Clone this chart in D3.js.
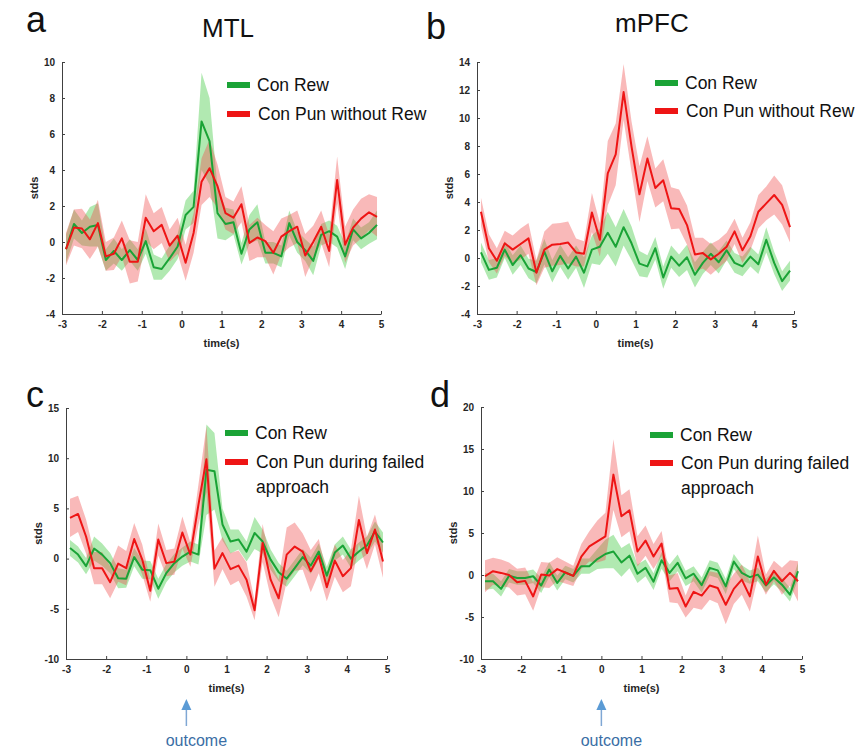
<!DOCTYPE html>
<html>
<head>
<meta charset="utf-8">
<script src="https://cdn.jsdelivr.net/npm/d3@7"></script>
<style>
  body { margin: 0; background: #fff; }
  svg { font-family: "Liberation Sans", Arial, sans-serif; }
  .axis path, .axis line { stroke: #404040; }
  .axis text { font-size: 10px; font-weight: bold; fill: #262626; }
</style>
</head>
<body>
<div id="chart"></div>
<script>
// time bins (s)
const times = [-2.9, -2.7, -2.5, -2.3, -2.1, -1.9, -1.7, -1.5, -1.3, -1.1,
  -0.9, -0.7, -0.5, -0.3, -0.1, 0.1, 0.3, 0.5, 0.7, 0.9,
  1.1, 1.3, 1.5, 1.7, 1.9, 2.1, 2.3, 2.5, 2.7, 2.9,
  3.1, 3.3, 3.5, 3.7, 3.9, 4.1, 4.3, 4.5, 4.7, 4.9];
const xTicks = [-3, -2, -1, 0, 1, 2, 3, 4, 5];

// a - MTL
const aGreen = [-0.4, 1.0, 0.5, 0.85, 0.95, -1.0, -0.5, -1.0, -0.45, -1.0,
  0.05, -1.4, -1.5, -0.9, -0.25, 1.5, 1.95, 6.7, 5.6, 1.6,
  1.0, 1.1, -0.65, 0.7, 1.1, -0.6, -0.6, -0.8, 1.05, 0.0,
  -0.45, -1.05, 0.4, 0.6, 0.3, -0.8, 0.7, 0.2, 0.5, 0.95];
const aGreenSem = [0.8, 0.8, 0.7, 1.1, 1.2, 0.6, 0.7, 0.6, 0.6, 0.6,
  0.7, 0.7, 0.6, 0.7, 0.7, 0.8, 0.9, 2.7, 2.4, 1.4,
  0.9, 0.7, 0.6, 0.8, 1.0, 0.6, 0.6, 0.6, 0.7, 0.6,
  0.6, 0.8, 0.6, 0.6, 0.6, 0.7, 0.6, 0.6, 0.6, 0.8];
const aRed = [-0.4, 0.8, 0.75, 0.15, 1.05, -0.8, -0.65, 0.2, -1.1, -1.1,
  1.35, 0.6, 0.95, -0.2, 0.35, -1.15, 0.5, 3.35, 4.1, 3.1,
  1.6, 1.35, 2.1, -0.05, 0.25, 0.05, -0.6, 0.3, 0.6, 0.85,
  -0.75, 0.0, 0.85, -0.5, 3.45, -0.15, 0.8, 1.3, 1.65, 1.4];
const aRedSem = [0.9, 1.0, 1.1, 1.1, 1.3, 0.8, 0.9, 1.0, 1.2, 1.1,
  1.3, 1.0, 1.0, 0.9, 1.0, 1.0, 1.1, 1.3, 1.6, 1.2,
  0.9, 0.9, 1.0, 1.0, 1.1, 0.9, 1.2, 1.0, 0.9, 0.9,
  1.2, 0.9, 0.9, 0.9, 1.3, 1.0, 1.0, 1.1, 1.0, 1.1];

// b - mPFC
const bGreen = [0.4, -0.85, -0.7, 0.6, -0.5, 0.2, -0.75, -1.0, 0.45, -0.95,
  0.15, -0.75, 0.1, -1.05, 0.6, 0.8, 1.8, 0.8, 2.2, 1.05,
  -0.4, -0.6, 0.7, -1.4, 0.1, -0.55, 0.05, -1.2, -0.35, 0.3,
  -0.3, 0.55, -0.35, -0.6, 0.1, -0.45, 1.3, -0.35, -1.65, -0.9];
const bGreenSem = [0.7, 0.7, 0.7, 0.6, 0.7, 0.7, 0.7, 0.8, 0.9, 0.8,
  0.8, 0.8, 0.8, 1.1, 1.0, 1.3, 1.5, 1.4, 1.3, 1.2,
  0.9, 0.8, 0.8, 0.8, 0.8, 0.8, 0.9, 0.9, 0.8, 0.8,
  0.8, 0.7, 0.7, 0.7, 0.7, 0.7, 0.9, 0.8, 0.7, 0.7];
const bRed = [3.3, 0.7, -0.2, 1.05, 0.6, 1.0, 1.4, -1.05, 0.6, 0.95,
  1.0, 1.1, 0.4, 0.3, 3.25, 1.3, 6.05, 7.4, 11.85, 7.95,
  4.55, 7.1, 5.0, 5.55, 3.55, 3.5, 2.35, 0.25, 0.35, -0.1,
  0.3, 0.8, 1.9, 0.55, 1.55, 3.3, 3.9, 4.5, 3.8, 2.2];
const bRedSem = [1.0, 1.0, 0.9, 0.9, 1.0, 1.1, 1.1, 0.9, 1.3, 1.5,
  1.5, 1.5, 1.0, 0.9, 1.4, 1.2, 2.3, 2.2, 2.0, 1.8,
  2.0, 1.6, 1.4, 1.5, 1.5, 1.4, 1.4, 1.2, 1.1, 1.1,
  1.0, 1.0, 0.9, 0.9, 1.0, 1.2, 1.2, 1.4, 1.4, 1.1];

// c - MTL, failed approach
const cGreen = [1.05, 0.4, -0.75, 1.0, 0.4, -0.45, -1.95, -2.0, 0.15, -1.1,
  -1.15, -3.0, -1.45, -0.45, 0.2, 0.7, 0.4, 8.85, 8.7, 3.4,
  1.7, 1.9, 0.7, 2.55, 1.7, -0.1, -1.35, -2.0, -0.95, 0.15,
  -0.7, 0.7, -1.7, 0.6, 1.3, 0.0, 0.7, 1.3, 2.7, 1.6];
const cGreenSem = [0.8, 0.8, 0.8, 1.2, 1.1, 1.0, 1.0, 0.9, 0.9, 0.9,
  0.9, 1.0, 0.9, 0.9, 0.9, 1.0, 1.0, 4.5, 3.8, 1.6,
  1.2, 1.0, 1.0, 1.6, 1.2, 1.0, 0.9, 0.8, 0.8, 0.8,
  0.8, 0.8, 0.9, 0.8, 0.9, 0.9, 0.9, 0.9, 1.0, 1.0];
const cRed = [4.05, 4.45, 2.2, -0.95, -0.95, -2.35, -0.5, -0.95, 1.95, -0.1,
  -3.2, 1.9, -0.45, -0.3, 2.6, 0.4, 5.35, 9.9, -1.0, 0.55,
  -1.05, -0.7, -2.1, -5.15, 1.55, -2.1, -3.95, 0.4, 1.2, 0.7,
  -1.25, 0.25, -2.85, -0.2, -1.75, -0.95, 3.85, 0.55, 2.9, -0.3];
const cRedSem = [1.9, 1.8, 1.7, 1.6, 1.6, 1.6, 1.8, 1.7, 1.6, 1.5,
  1.1, 1.6, 1.3, 1.3, 1.6, 1.2, 2.0, 3.3, 1.8, 1.6,
  1.6, 1.5, 1.7, 1.0, 1.9, 1.7, 1.9, 2.7, 2.4, 1.8,
  2.1, 1.7, 1.4, 1.6, 1.6, 1.8, 2.4, 1.6, 1.5, 1.6];

// d - mPFC, failed approach
const dGreen = [-0.75, -0.75, -1.65, -0.1, -0.35, -0.35, -0.15, -1.25, 0.65, -0.95,
  0.3, -0.1, 1.05, 1.05, 1.9, 2.5, 2.8, 1.5, 2.3, 0.15,
  0.85, -0.8, 1.75, 0.25, 1.45, -0.4, 0.15, -1.2, 0.85, 0.55,
  -1.35, 1.6, 0.25, -0.25, 0.05, -1.25, -0.3, -1.15, -2.35, 0.45];
const dGreenSem = [1.0, 0.9, 0.9, 0.8, 0.8, 0.8, 0.8, 0.9, 0.9, 0.9,
  0.8, 0.8, 0.9, 0.9, 1.2, 1.7, 2.0, 1.7, 1.5, 1.1,
  1.0, 1.0, 1.0, 1.0, 1.0, 0.9, 0.9, 0.9, 0.9, 0.9,
  0.9, 0.9, 0.9, 0.8, 0.8, 0.8, 0.8, 0.8, 0.8, 1.0];
const dRed = [-0.15, 0.45, 0.25, 0.0, -0.85, -0.7, -2.55, 0.05, -0.05, 0.7,
  0.3, -0.1, 2.2, 3.4, 4.0, 4.6, 11.95, 7.0, 7.7, 2.8,
  4.1, 2.2, 3.75, -1.65, -1.55, -3.75, -2.0, -2.45, -1.25, -1.55,
  -3.55, -1.65, -0.55, -2.55, 2.2, -1.15, 0.5, -0.75, 0.25, -0.75];
const dRedSem = [1.9, 1.6, 1.6, 1.5, 1.6, 1.6, 1.7, 1.5, 1.5, 1.4,
  1.3, 1.2, 1.5, 1.8, 2.5, 2.8, 4.2, 2.5, 2.5, 1.8,
  1.8, 1.5, 1.5, 1.6, 1.8, 1.3, 1.9, 1.7, 1.7, 1.8,
  2.3, 1.8, 1.8, 1.8, 2.5, 1.2, 1.2, 1.6, 1.5, 2.4];

const greenLabel = "Con Rew";
const redLabelTop = ["Con Pun without Rew"];
const redLabelBottom = ["Con Pun during failed", "approach"];

const colors = {
  greenLine: "#1aa336", greenFill: "#3cc83c",
  redLine: "#ee1515", redFill: "#f05050"
};

const W = 860, H = 749;

const svg = d3.select("#chart").append("svg")
  .attr("width", W).attr("height", H);

// plain hyphen for negatives, like the matlab figure
const tickFmt = d => String(d);

function drawPanel(p) {
  let g = svg.append("g");

  let x = d3.scaleLinear().domain([-3, 5]).range([p.x0, p.x1]);
  let y = d3.scaleLinear().domain(p.yDomain).range([p.y1, p.y0]);

  let rows = times.map((t, i) => ({
    t: t, green: p.green[i], greenSem: p.greenSem[i],
    red: p.red[i], redSem: p.redSem[i]
  }));

  // sem bands, green first so the red tint sits over it
  let area = key => d3.area()
    .x(d => x(d.t))
    .y0(d => y(d[key] - d[key + "Sem"]))
    .y1(d => y(d[key] + d[key + "Sem"]));

  g.append("path").datum(rows)
    .attr("d", area("green"))
    .attr("fill", colors.greenFill).attr("fill-opacity", 0.4);
  g.append("path").datum(rows)
    .attr("d", area("red"))
    .attr("fill", colors.redFill).attr("fill-opacity", 0.4);

  let line = key => d3.line().x(d => x(d.t)).y(d => y(d[key]));

  g.append("path").datum(rows)
    .attr("d", line("green"))
    .attr("fill", "none").attr("stroke", colors.greenLine)
    .attr("stroke-width", 2).attr("stroke-linejoin", "round");
  g.append("path").datum(rows)
    .attr("d", line("red"))
    .attr("fill", "none").attr("stroke", colors.redLine)
    .attr("stroke-width", 2).attr("stroke-linejoin", "round");

  // axes, matlab style (ticks inside)
  g.append("g")
    .attr("class", "axis")
    .attr("transform", `translate(0,${p.y1})`)
    .call(d3.axisBottom(x).tickValues(xTicks).tickFormat(tickFmt)
      .tickSizeInner(-3).tickSizeOuter(0).tickPadding(7));

  g.append("g")
    .attr("class", "axis")
    .attr("transform", `translate(${p.x0},0)`)
    .call(d3.axisLeft(y).tickValues(p.yTicks).tickFormat(tickFmt)
      .tickSizeInner(-3).tickSizeOuter(0).tickPadding(7));

  g.append("text")
    .attr("x", (p.x0 + p.x1) / 2)
    .attr("y", p.y1 + 33)
    .attr("text-anchor", "middle")
    .style("font-size", "11px").style("font-weight", "bold").style("fill", "#262626")
    .text("time(s)");

  g.append("text")
    .attr("transform", `translate(${p.x0 - 24},${(p.y0 + p.y1) / 2}) rotate(-90)`)
    .attr("text-anchor", "middle")
    .style("font-size", "11px").style("font-weight", "bold").style("fill", "#262626")
    .text("stds");

  // legend
  g.append("rect")
    .attr("x", p.lx).attr("y", p.ly - 3)
    .attr("width", 23).attr("height", 6)
    .attr("fill", colors.greenLine);
  g.append("text")
    .attr("x", p.lx + 30).attr("y", p.ly + 6)
    .style("font-size", "17.5px").style("fill", "#111")
    .text(greenLabel);

  g.append("rect")
    .attr("x", p.lx).attr("y", p.ly + p.gap - 3)
    .attr("width", 23).attr("height", 6)
    .attr("fill", colors.redLine);
  p.redLabel.forEach((s, i) => {
    g.append("text")
      .attr("x", p.lx + 31).attr("y", p.ly + p.gap + 6 + i * 25)
      .style("font-size", "17.5px").style("fill", "#111")
      .text(s);
  });

  // panel letter
  g.append("text")
    .attr("x", p.letterX).attr("y", p.letterY)
    .style("font-size", "36px").style("fill", "#111")
    .text(p.letter);
}

const panels = [
  { letter: "a", letterX: 26, letterY: 32, x0: 62, x1: 381, y0: 62, y1: 314,
    yDomain: [-4, 10], yTicks: [-4, -2, 0, 2, 4, 6, 8, 10],
    green: aGreen, greenSem: aGreenSem, red: aRed, redSem: aRedSem,
    lx: 227, ly: 85, gap: 29, redLabel: redLabelTop },
  { letter: "b", letterX: 426, letterY: 39, x0: 477, x1: 794, y0: 62, y1: 314,
    yDomain: [-4, 14], yTicks: [-4, -2, 0, 2, 4, 6, 8, 10, 12, 14],
    green: bGreen, greenSem: bGreenSem, red: bRed, redSem: bRedSem,
    lx: 655, ly: 83, gap: 28, redLabel: redLabelTop },
  { letter: "c", letterX: 26, letterY: 407, x0: 66, x1: 387, y0: 408, y1: 659,
    yDomain: [-10, 15], yTicks: [-10, -5, 0, 5, 10, 15],
    green: cGreen, greenSem: cGreenSem, red: cRed, redSem: cRedSem,
    lx: 225, ly: 433, gap: 29, redLabel: redLabelBottom },
  { letter: "d", letterX: 430, letterY: 407, x0: 481, x1: 802, y0: 407, y1: 659,
    yDomain: [-10, 20], yTicks: [-10, -5, 0, 5, 10, 15, 20],
    green: dGreen, greenSem: dGreenSem, red: dRed, redSem: dRedSem,
    lx: 650, ly: 435, gap: 28, redLabel: redLabelBottom }
];

panels.forEach(drawPanel);

// region titles
svg.append("text").attr("x", 202).attr("y", 37)
  .style("font-size", "26px").style("fill", "#111").text("MTL");
svg.append("text").attr("x", 615).attr("y", 32)
  .style("font-size", "26px").style("fill", "#111").text("mPFC");

// outcome markers under t = 0 of the bottom panels
[panels[2], panels[3]].forEach(p => {
  let x = d3.scaleLinear().domain([-3, 5]).range([p.x0, p.x1]);
  let cx = x(0);
  svg.append("line")
    .attr("x1", cx).attr("x2", cx).attr("y1", 708).attr("y2", 726)
    .attr("stroke", "#7fa7d4").attr("stroke-width", 1.5);
  svg.append("path")
    .attr("d", `M${cx},699 L${cx - 5},710 L${cx + 5},710 Z`)
    .attr("fill", "#5b9bd5");
  svg.append("text")
    .attr("x", cx + 10).attr("y", 746)
    .attr("text-anchor", "middle")
    .style("font-size", "16px").style("fill", "#3a6ea5")
    .text("outcome");
});
</script>
</body>
</html>
